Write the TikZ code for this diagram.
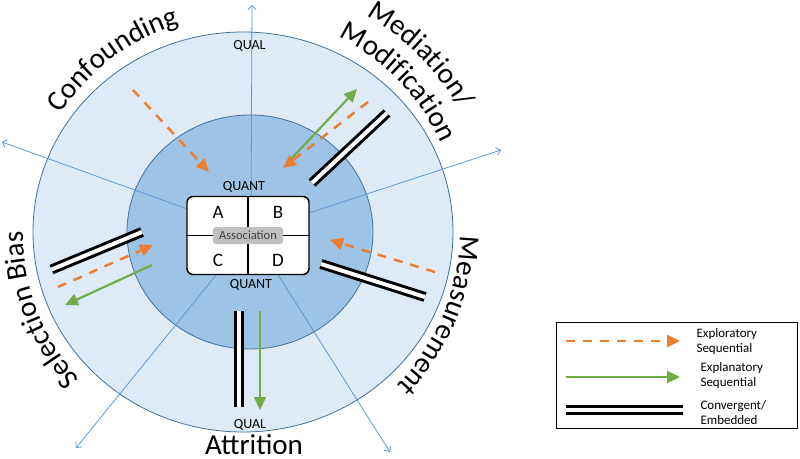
\documentclass[tikz,border=0pt]{standalone}
\usepackage{fontspec}
\setmainfont{Carlito}
\usetikzlibrary{arrows.meta,decorations.text}

\definecolor{ringblue}{RGB}{222,235,247}
\definecolor{coreblue}{RGB}{157,195,230}
\definecolor{edgeblue}{RGB}{65,113,156}
\definecolor{axisblue}{RGB}{91,155,213}
\definecolor{exporange}{RGB}{237,125,49}
\definecolor{expgreen}{RGB}{112,173,71}
\definecolor{assocgray}{RGB}{191,191,191}

\begin{document}
\begin{tikzpicture}[
    x=1pt, y=1pt,
    axis/.style={draw=axisblue, line width=0.8pt, -{Straight Barb[length=4pt,width=8pt]}},
    explor/.style={draw=exporange, line width=2.5pt, dash pattern=on 9pt off 8pt, -{Triangle[length=13pt,width=12pt]}},
    explan/.style={draw=expgreen, line width=2.2pt, -{Triangle[length=13pt,width=12pt]}},
    conv/.style={draw=black, line width=3pt, double=white, double distance=4pt},
    big/.style={font=\fontsize{29}{31}\selectfont},
    tag/.style={font=\fontsize{14}{16}\selectfont},
    cell/.style={font=\fontsize{19}{21}\selectfont},
    key/.style={font=\fontsize{13}{15}\selectfont, align=left, anchor=west}
  ]
    \useasboundingbox (-251,-226) rectangle (549,232);

    % Rings
    \coordinate (ctr) at (-8,0);
    \coordinate (o) at (0,0);
    \draw[edgeblue, fill=ringblue, line width=0.8pt] (ctr) ellipse [x radius=210pt, y radius=200pt];
    \draw[edgeblue, fill=coreblue, line width=0.8pt] (-1,0) ellipse [x radius=123pt, y radius=117pt];

    % Axes
    \coordinate (ax1) at (1,227);
    \coordinate (ax2) at (-249,90);
    \coordinate (ax3) at (-175,-216);
    \coordinate (ax4) at (139,-220);
    \coordinate (ax5) at (250,82);
    \foreach \a in {1,...,5}
      \draw[axis] (o) -- (ax\a);

    % Labels round the ring
    \path[decorate, decoration={text along path, text align=center,
      text={|\fontsize{29}{31}\selectfont|Confounding}}]
      ([shift={(ctr)}]157:217pt) arc[start angle=157, end angle=97, radius=217pt];
    \path[decorate, decoration={text along path, text align=center,
      text={|\fontsize{29}{31}\selectfont|Mediation/}}]
      ([shift={(ctr)}]75:249pt) arc[start angle=75, end angle=15, radius=249pt];
    \path[decorate, decoration={text along path, text align=center,
      text={|\fontsize{29}{31}\selectfont|Modification}}]
      ([shift={(ctr)}]74:217pt) arc[start angle=74, end angle=14, radius=217pt];
    \path[decorate, decoration={text along path, text align=center,
      text={|\fontsize{29}{31}\selectfont|Measurement}}]
      ([shift={(ctr)}]8:217pt) arc[start angle=8, end angle=-54, radius=217pt];
    \path[decorate, decoration={text along path, text align=center,
      text={|\fontsize{29}{31}\selectfont|Selection Bias}}]
      ([shift={(ctr)}]232:220pt) arc[start angle=232, end angle=170, radius=220pt];
    \node[big, anchor=base, inner sep=0pt] (attrition) at (3,-222) {Attrition};

    \node[tag] (qualtop) at (-1.5,186) {QUAL};
    \node[tag] (qualbot) at (-1,-192.5) {QUAL};
    \node[tag] (quanttop) at (-7,45) {QUANT};
    \node[tag] (quantbot) at (0,-53) {QUANT};

    % 2x2 table
    \node[draw, fill=white, line width=1.4pt, rounded corners=6pt,
      minimum width=122pt, minimum height=78pt] (tbl) at (-3,-3.5) {};
    \draw[line width=1.4pt] (tbl.north) -- (tbl.south);
    \draw[line width=1.4pt] (tbl.west) -- (tbl.east);
    \node[fill=assocgray, rounded corners=3pt, inner sep=0pt, minimum width=70pt,
      minimum height=17pt, text=black!75, font=\fontsize{12.5}{14}\selectfont] (assoc) at (tbl.center) {Association};
    \node[cell] (cellA) at (-33,20) {A};
    \node[cell] (cellB) at (27,20) {B};
    \node[cell] (cellC) at (-33,-28) {C};
    \node[cell] (cellD) at (27,-28) {D};

    % Confounding
    \coordinate (cf1) at (-118,142);
    \coordinate (cf2) at (-42,60);
    \draw[explor] (cf1) -- (cf2);

    % Mediation / Modification
    \coordinate (md1) at (39,72);
    \coordinate (md2) at (106,143);
    \coordinate (md3) at (117,130);
    \coordinate (md4) at (32,64);
    \coordinate (md5) at (136,119);
    \coordinate (md6) at (61,49);
    \draw[explan] (md1) -- (md2);
    \draw[explor] (md3) -- (md4);
    \draw[conv] (md5) -- (md6);

    % Measurement
    \coordinate (ms1) at (184,-40);
    \coordinate (ms2) at (79,-8);
    \coordinate (ms3) at (70,-32);
    \coordinate (ms4) at (174,-65);
    \draw[explor] (ms1) -- (ms2);
    \draw[conv] (ms3) -- (ms4);

    % Attrition
    \coordinate (at1) at (-12,-79);
    \coordinate (at2) at (-12,-175);
    \coordinate (at3) at (9,-79);
    \coordinate (at4) at (9,-178);
    \draw[conv] (at1) -- (at2);
    \draw[explan] (at3) -- (at4);

    % Selection bias
    \coordinate (sb1) at (-199.5,-37.5);
    \coordinate (sb2) at (-109,0);
    \coordinate (sb3) at (-193,-55);
    \coordinate (sb4) at (-98,-13);
    \coordinate (sb5) at (-99,-33);
    \coordinate (sb6) at (-186,-73);
    \draw[conv] (sb1) -- (sb2);
    \draw[explor] (sb3) -- (sb4);
    \draw[explan] (sb5) -- (sb6);

    % Legend
    \node[draw, line width=0.8pt, anchor=north west, minimum width=241pt,
      minimum height=106pt] (legend) at (305,-90) {};
    \coordinate (lg1) at (315,-109);
    \coordinate (lg2) at (429,-109);
    \coordinate (lg3) at (315,-145);
    \coordinate (lg4) at (429,-145);
    \coordinate (lg5) at (315,-177.5);
    \coordinate (lg6) at (432,-177.5);
    \draw[explor] (lg1) -- (lg2);
    \draw[explan] (lg3) -- (lg4);
    \draw[conv] (lg5) -- (lg6);
    \node[key] (keyexplor) at (442,-109.5) {Exploratory\\Sequential};
    \node[key] (keyexplan) at (446,-143.5) {Explanatory\\Sequential};
    \node[key] (keyconv) at (446,-181) {Convergent/\\Embedded};

  \end{tikzpicture}
\end{document}
